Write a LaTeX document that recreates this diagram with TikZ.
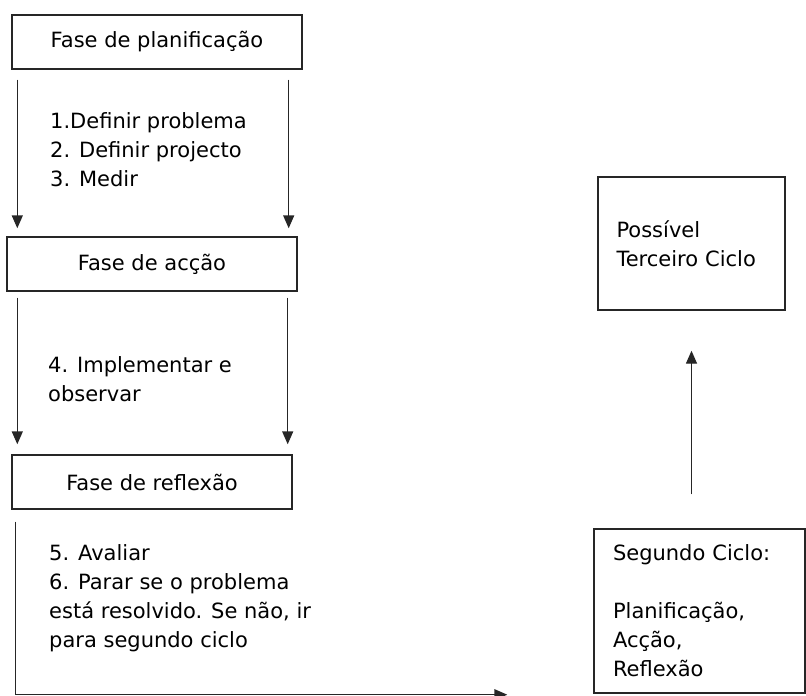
\documentclass[tikz,border=0pt]{standalone}
\usepackage{fontspec}
\setmainfont{DejaVu Sans}
\usetikzlibrary{arrows.meta,positioning}
\tikzset{
  fase/.style={draw=black!85, line width=1.4pt, minimum width=290pt, minimum height=54pt, inner sep=0pt},
  ciclo/.style={draw=black!85, line width=1.4pt, align=left, inner ysep=0pt},
  passo/.style={align=left, anchor=west, inner sep=0pt},
  seta/.style={draw=black!85, line width=1.4pt, -{Triangle[width=11pt,length=13pt]}}
}
\begin{document}
\begin{tikzpicture}[x=1pt, y=1pt, font=\fontsize{21}{29}\selectfont]
        \useasboundingbox (0,0) rectangle (806,-696);
        \node[fase] (plan) at (157,-42) {Fase de planificação};
        \node[fase] (accao) at (152,-264) {Fase de acção};
        \node[fase, minimum width=280pt] (reflexao) at (152,-482) {Fase de reflexão};
        \node[ciclo, text width=150pt, inner xsep=18.5pt, minimum height=133pt] (terceiro) at (691.5,-243.5)
                {Possível\\Terceiro Ciclo};
        \node[ciclo, text width=173pt, inner xsep=19pt, minimum height=164pt] (segundo) at (699.5,-611)
                {Segundo Ciclo:\\[29pt]Planificação,\\Acção,\\Reflexão};
        \node[passo] (p1) at (50,-150) {1.Definir problema\\2. Definir projecto\\3. Medir};
        \node[passo] (p4) at (48,-379) {4. Implementar e\\observar};
        \node[passo] (p5) at (49,-598) {5. Avaliar\\6. Parar se o problema\\está resolvido. Se não, ir\\para segundo ciclo};
        \draw[seta] ([xshift=6pt,yshift=-10pt]plan.south west) -- ([xshift=11pt,yshift=8pt]accao.north west);
        \draw[seta] ([xshift=-14pt,yshift=-10pt]plan.south east) -- ([xshift=-9pt,yshift=8pt]accao.north east);
        \draw[seta] ([xshift=11pt,yshift=-6pt]accao.south west) -- ([xshift=6pt,yshift=10pt]reflexao.north west);
        \draw[seta] ([xshift=-10pt,yshift=-6pt]accao.south east) -- ([xshift=-5pt,yshift=10pt]reflexao.north east);
        \draw[seta] ([xshift=4pt,yshift=-12pt]reflexao.south west) |- ([xshift=-86pt,yshift=-1pt]segundo.south west);
        \draw[seta] ([yshift=34pt]segundo.north -| terceiro.south) -- ([yshift=-40pt]terceiro.south);
\end{tikzpicture}
\end{document}
